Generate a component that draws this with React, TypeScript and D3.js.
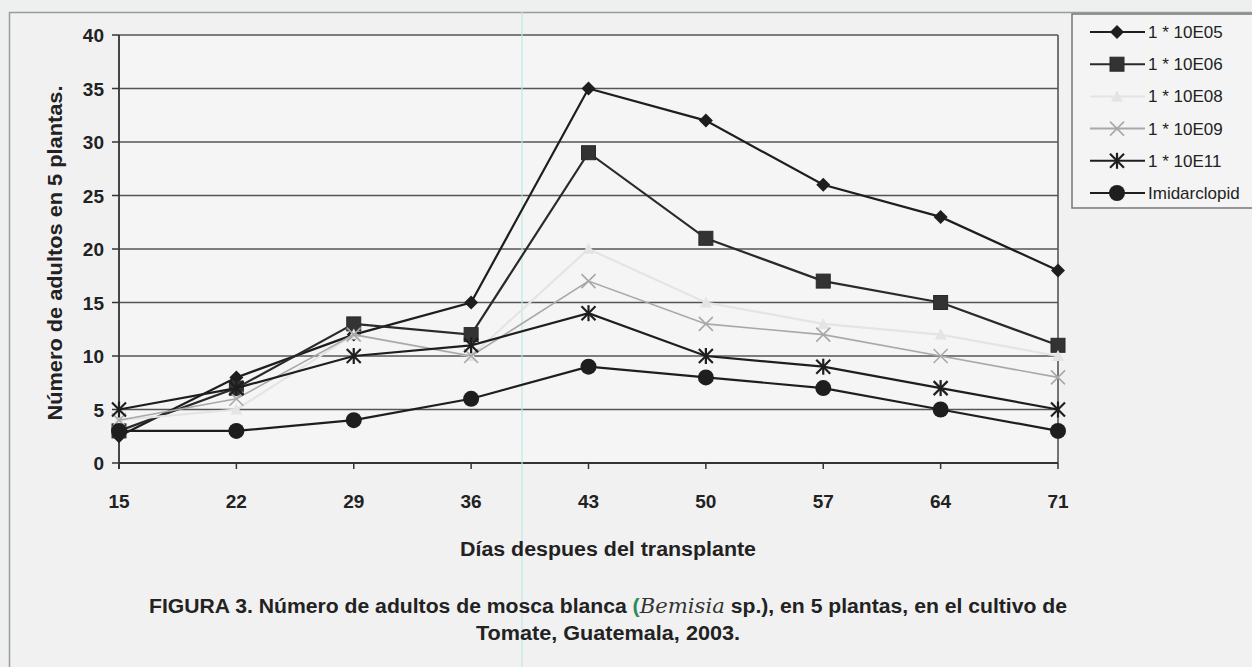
import React from "react";
import * as d3 from "d3";

const days = [15, 22, 29, 36, 43, 50, 57, 64, 71];
const yTicks = [0, 5, 10, 15, 20, 25, 30, 35, 40];

const s10E05 = [2.5, 8, 12, 15, 35, 32, 26, 23, 18];
const s10E06 = [3, 7, 13, 12, 29, 21, 17, 15, 11];
const s10E08 = [4, 5, 12, 10, 20, 15, 13, 12, 10];
const s10E09 = [4, 6, 12, 10, 17, 13, 12, 10, 8];
const s10E11 = [5, 7, 10, 11, 14, 10, 9, 7, 5];
const sImid = [3, 3, 4, 6, 9, 8, 7, 5, 3];

const seriesNames = ["1 * 10E05", "1 * 10E06", "1 * 10E08", "1 * 10E09", "1 * 10E11", "Imidarclopid"];
const seriesData = [s10E05, s10E06, s10E08, s10E09, s10E11, sImid];
const seriesColors = ["#1e1e1e", "#2a2a2a", "#e4e4e4", "#a8a8a8", "#1e1e1e", "#1e1e1e"];
const seriesMarkers = ["diamond", "square", "triangle", "x", "star", "circle"];

function Marker({ type, x, y, color }: { type: string; x: number; y: number; color: string }) {
  if (type === "diamond") {
    const r = 7;
    return <path d={`M${x},${y - r}L${x + r},${y}L${x},${y + r}L${x - r},${y}Z`} fill={color} />;
  }
  if (type === "square") {
    return <rect x={x - 7} y={y - 7} width={14} height={14} fill="#333" stroke={color} strokeWidth={1} />;
  }
  if (type === "triangle") {
    return <path d={`M${x},${y - 6}L${x + 6},${y + 5}L${x - 6},${y + 5}Z`} fill={color} />;
  }
  if (type === "x") {
    const r = 7;
    return (
      <g stroke={color} strokeWidth={1.6}>
        <line x1={x - r} y1={y - r} x2={x + r} y2={y + r} />
        <line x1={x - r} y1={y + r} x2={x + r} y2={y - r} />
      </g>
    );
  }
  if (type === "star") {
    const r = 7;
    return (
      <g stroke={color} strokeWidth={2.2}>
        <line x1={x - r} y1={y - r} x2={x + r} y2={y + r} />
        <line x1={x - r} y1={y + r} x2={x + r} y2={y - r} />
        <line x1={x} y1={y - r - 1} x2={x} y2={y + r + 1} />
      </g>
    );
  }
  return <circle cx={x} cy={y} r={8} fill={color} />;
}

export default function App() {
  const W = 1252, H = 667;
  const left = 119, right = 1058, top = 35, bottom = 463;
  const x = d3.scaleLinear().domain([15, 71]).range([left, right]);
  const y = d3.scaleLinear().domain([0, 40]).range([bottom, top]);
  const line = d3.line<number>().x((_, i) => x(days[i])).y((v) => y(v));
  const font = "Liberation Sans, Arial, sans-serif";

  return (
    <svg width={W} height={H} style={{ position: "absolute", left: 0, top: 0 }} fontFamily={font}>
      <rect x={0} y={0} width={W} height={H} fill="#eeefef" />
      <rect x={9.5} y={12.5} width={W} height={H} fill="#f1f1f1" stroke="#9a9a9a" strokeWidth={1.5} />
      <rect x={left} y={top} width={right - left} height={bottom - top} fill="#f5f5f5" />
      {/* grid */}
      {yTicks.map((t) => (
        <line key={t} x1={left} x2={right} y1={y(t)} y2={y(t)} stroke="#555" strokeWidth={1.6} />
      ))}
      <line x1={right} x2={right} y1={top} y2={bottom} stroke="#555" strokeWidth={1.6} />
      {/* axes */}
      <line x1={left} x2={left} y1={top} y2={bottom + 6} stroke="#333" strokeWidth={1.8} />
      <line x1={left} x2={right} y1={bottom} y2={bottom} stroke="#333" strokeWidth={2} />
      {yTicks.map((t) => (
        <line key={"yt" + t} x1={left - 7} x2={left} y1={y(t)} y2={y(t)} stroke="#333" strokeWidth={1.5} />
      ))}
      {days.map((d) => (
        <line key={"xt" + d} x1={x(d)} x2={x(d)} y1={bottom} y2={bottom + 6} stroke="#333" strokeWidth={1.5} />
      ))}
      {yTicks.map((t) => (
        <text key={"yl" + t} x={104} y={y(t) + 7} textAnchor="end" fontSize={19} fontWeight="bold" fill="#222">
          {t}
        </text>
      ))}
      {days.map((d) => (
        <text key={"xl" + d} x={x(d)} y={508} textAnchor="middle" fontSize={19} fontWeight="bold" fill="#222">
          {d}
        </text>
      ))}
      {/* scan artifact line */}
      <line x1={522} x2={522} y1={12} y2={H} stroke="#bfe8e6" strokeWidth={1.5} opacity={0.8} />
      {/* series */}
      {seriesData.map((s, si) => (
        <g key={"s" + si}>
          <path d={line(s) || ""} fill="none" stroke={seriesColors[si]} strokeWidth={si === 3 ? 1.6 : 2.2} />
          {s.map((v, i) => (
            <Marker key={i} type={seriesMarkers[si]} x={x(days[i])} y={y(v)} color={seriesColors[si]} />
          ))}
        </g>
      ))}
      {/* axis titles */}
      <text transform={`translate(62,${(top + bottom) / 2 + 4}) rotate(-90)`} textAnchor="middle" fontSize={20} fontWeight="bold" fill="#222" textLength={335} lengthAdjust="spacingAndGlyphs">
        Número de adultos en 5 plantas.
      </text>
      <text x={608} y={556} textAnchor="middle" fontSize={20} fontWeight="bold" fill="#222" textLength={296} lengthAdjust="spacingAndGlyphs">
        Días despues del transplante
      </text>
      {/* caption */}
      <text x={608} y={613} textAnchor="middle" fontSize={20} fontWeight="bold" fill="#222" textLength={918} lengthAdjust="spacingAndGlyphs">
        FIGURA 3. Número de adultos de mosca blanca <tspan fill="#2e8b57">(</tspan>
        <tspan fontFamily="DejaVu Serif, serif" fontStyle="italic" fontWeight="normal" fill="#333">Bemisia</tspan> sp.), en 5 plantas, en el cultivo de
      </text>
      <text x={608} y={640} textAnchor="middle" fontSize={20} fontWeight="bold" fill="#222" textLength={264} lengthAdjust="spacingAndGlyphs">
        Tomate,  Guatemala, 2003.
      </text>
      {/* legend */}
      <rect x={1072} y={14} width={200} height={194} fill="#f4f4f4" stroke="#777" strokeWidth={1.5} />
      {seriesNames.map((n, i) => {
        const ly = 32 + i * 32.2;
        return (
          <g key={"lg" + i}>
            <line x1={1090} x2={1145} y1={ly} y2={ly} stroke={seriesColors[i]} strokeWidth={2} />
            <Marker type={seriesMarkers[i]} x={1117} y={ly} color={seriesColors[i]} />
            <text x={1148} y={ly + 6} fontSize={17} fill="#222">
              {n}
            </text>
          </g>
        );
      })}
    </svg>
  );
}
